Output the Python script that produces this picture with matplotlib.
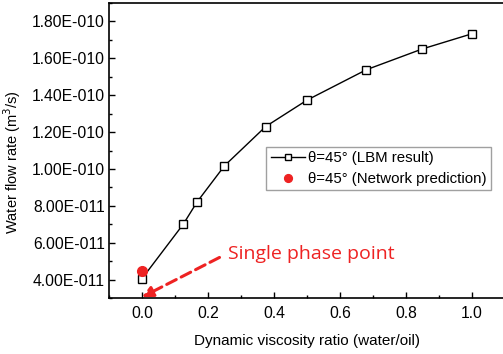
import numpy as np
import matplotlib
matplotlib.use('Agg')
import matplotlib.pyplot as plt
import matplotlib.ticker as ticker

plt.rcParams['font.family'] = ['Liberation Sans', 'DejaVu Sans']

# LBM result
ratio = [0.0, 0.125, 0.167, 0.25, 0.375, 0.5, 0.68, 0.85, 1.0]
flow_lbm = [4.05e-11, 7.0e-11, 8.21e-11, 1.017e-10, 1.23e-10, 1.373e-10, 1.538e-10, 1.651e-10, 1.733e-10]

# network prediction
ratio_net = [0.0]
flow_net = [4.45e-11]

lbm_label = 'θ=45° (LBM result)'
net_label = 'θ=45° (Network prediction)'
note_text = 'Single phase point'


def sci_fmt(v, pos):
    if v == 0:
        return '0'
    e = int(np.floor(np.log10(abs(v)) + 1e-9))
    m = v / 10**e
    sign = '-' if e < 0 else ''
    return '%.2fE%s%03d' % (m, sign, abs(e))


fig = plt.figure(figsize=(5.03, 3.54), dpi=100)
ax = fig.add_axes([0.2167, 0.1582, 0.787, 0.8333])

ax.plot(ratio, flow_lbm, color='black', lw=1.0, marker='s', markersize=5.5,
        markerfacecolor='white', markeredgecolor='black', markeredgewidth=1.0,
        label=lbm_label)
ax.plot(ratio_net, flow_net, linestyle='none', marker='o', markersize=7,
        color='#ee2222', label=net_label, zorder=3)

ax.set_xlim(-0.1, 1.1)
ax.set_ylim(3e-11, 1.9e-10)

ax.xaxis.set_major_locator(ticker.MultipleLocator(0.2))
ax.xaxis.set_minor_locator(ticker.MultipleLocator(0.1))
ax.xaxis.set_major_formatter(ticker.FormatStrFormatter('%.1f'))
ax.yaxis.set_major_locator(ticker.MultipleLocator(2e-11))
ax.yaxis.set_minor_locator(ticker.MultipleLocator(1e-11))
ax.yaxis.set_major_formatter(ticker.FuncFormatter(sci_fmt))

ax.tick_params(which='major', direction='in', length=4, width=1, labelsize=11.3)
ax.tick_params(axis='y', which='major', pad=3)
ax.tick_params(axis='x', which='major', pad=6)
ax.tick_params(which='minor', direction='in', length=2, width=1)
for s in ax.spines.values():
    s.set_linewidth(1.2)
ax.spines['right'].set_visible(False)

ax.set_xlabel('Dynamic viscosity ratio (water/oil)', fontsize=11, labelpad=9)
ax.set_ylabel('Water flow rate (m$^3$/s)', fontsize=10.5)
ax.yaxis.set_label_coords(-0.218, 0.46)

ax.annotate('', xy=(0.0, 3.05e-11), xytext=(0.235, 5.2e-11),
            arrowprops=dict(arrowstyle='-|>', color='#ee2222', lw=2.2,
                            linestyle=(0, (3.5, 1.8)), mutation_scale=16,
                            shrinkA=0, shrinkB=0))
ax.text(0.26, 5.4e-11, note_text, color='#ee2222', fontsize=14,
        family=['Open Sans', 'DejaVu Sans'], va='center', ha='left')

leg = ax.legend(loc='upper left', bbox_to_anchor=(0.397, 0.512), fontsize=10.8,
                frameon=True, fancybox=False, edgecolor='#888888',
                handlelength=2.3, handletextpad=0.2, borderpad=0.3,
                labelspacing=0.42, borderaxespad=0, markerscale=0.8)
leg.get_frame().set_linewidth(1.0)

fig.savefig('out.png', dpi=100)
